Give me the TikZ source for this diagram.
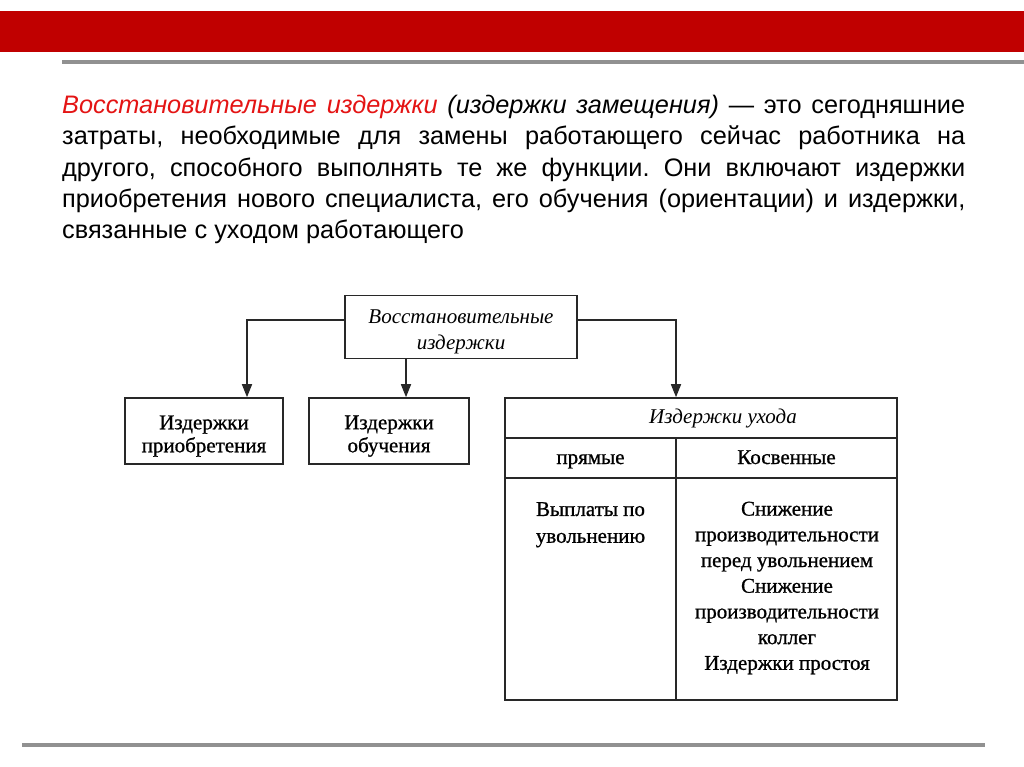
\documentclass[tikz,border=0pt]{standalone}
\usepackage{fontspec}
\setmainfont{Liberation Sans}
\newfontfamily\dserif[FakeBold=0.9]{Liberation Serif}
\newfontfamily\dserifi{Liberation Serif}
\usetikzlibrary{arrows.meta}
\definecolor{barred}{RGB}{192,0,0}
\definecolor{txtred}{RGB}{228,20,20}
\definecolor{rulegray}{RGB}{145,145,145}
\definecolor{linec}{RGB}{40,40,40}
\newcommand{\dstrut}[1]{\rule{0pt}{#1}}
\begin{document}
\begin{tikzpicture}[x=1pt,y=-1pt,
 box/.style={draw=linec, line width=1.6pt, rectangle, inner sep=0pt, align=center, font=\dserif\fontsize{21}{23}\selectfont},
 lbl/.style={inner sep=0pt, align=center, font=\dserif\fontsize{21}{25.7}\selectfont},
 arr/.style={draw=linec, line width=1.6pt, -{Triangle[width=10pt,length=13pt]}},
 hrule/.style={draw=rulegray, line width=4pt}]
\useasboundingbox (0,0) rectangle (1024,767);
\fill[white] (0,0) rectangle (1024,767);
\fill[barred] (0,11) rectangle (1024,52);
\coordinate (gl1) at (62,62); \coordinate (gr1) at (1024,62);
\draw[hrule] (gl1) -- (gr1);
\coordinate (gl2) at (22,745); \coordinate (gr2) at (985,745);
\draw[hrule] (gl2) -- (gr2);

\node[anchor=north west, inner sep=0pt, text width=903pt, align=justify,
  font=\fontsize{25.3}{31.3}\selectfont] (body) at (62,95)
 {\frenchspacing\hyphenpenalty=10000{\color{txtred}\itshape Восстановительные издержки} {\itshape (издержки замещения)} — это сегодняшние\linebreak
 затраты, необходимые для замены работающего сейчас работника на\linebreak
 другого, способного выполнять те же функции. Они включают издержки\linebreak
 приобретения нового специалиста, его обучения (ориентации) и издержки,\linebreak
 связанные с уходом работающего};

\node[box, minimum width=232pt, minimum height=63pt, font=\dserifi\itshape\fontsize{21}{26}\selectfont] (root) at (461,327) {\dstrut{23pt}Восстановительные\\издержки};
\node[box, minimum width=158pt, minimum height=66pt] (acq) at (204,431) {\dstrut{24pt}Издержки\\приобретения};
\node[box, minimum width=160pt, minimum height=66pt] (edu) at (389,431) {\dstrut{24pt}Издержки\\обучения};

\node[box, minimum width=392pt, minimum height=40pt] (hdr) at (701,418) {};
\node[box, minimum width=171pt, minimum height=40pt, text height=16pt, text depth=4pt] (dir) at (590.5,458) {прямые};
\node[box, minimum width=221pt, minimum height=40pt, text height=16pt, text depth=4pt] (ind) at (786.5,458) {Косвенные};
\node[box, minimum width=171pt, minimum height=222pt] (dirc) at (590.5,589) {};
\node[box, minimum width=221pt, minimum height=222pt] (indc) at (786.5,589) {};

\node[lbl, font=\dserifi\itshape\fontsize{21}{25}\selectfont, text height=15pt, text depth=5pt] (hdrt) at (723,418) {Издержки ухода};
\node[lbl, anchor=north, font=\dserif\fontsize{21}{26.8}\selectfont] (dirt) at (590.5,502) {Выплаты по\\увольнению};
\node[lbl] (indt) at (787,588) {Снижение\\производительности\\перед увольнением\\Снижение\\производительности\\коллег\\Издержки простоя};

\coordinate (aL) at (247,0);
\coordinate (aM) at (406,0);
\coordinate (aR) at (676,0);
\draw[arr] ([yshift=7pt]root.west) -| (aL |- acq.north);
\draw[arr] (aM |- root.south) -- (aM |- edu.north);
\draw[arr] ([yshift=7pt]root.east) -| (aR |- hdr.north);
\end{tikzpicture}
\end{document}
